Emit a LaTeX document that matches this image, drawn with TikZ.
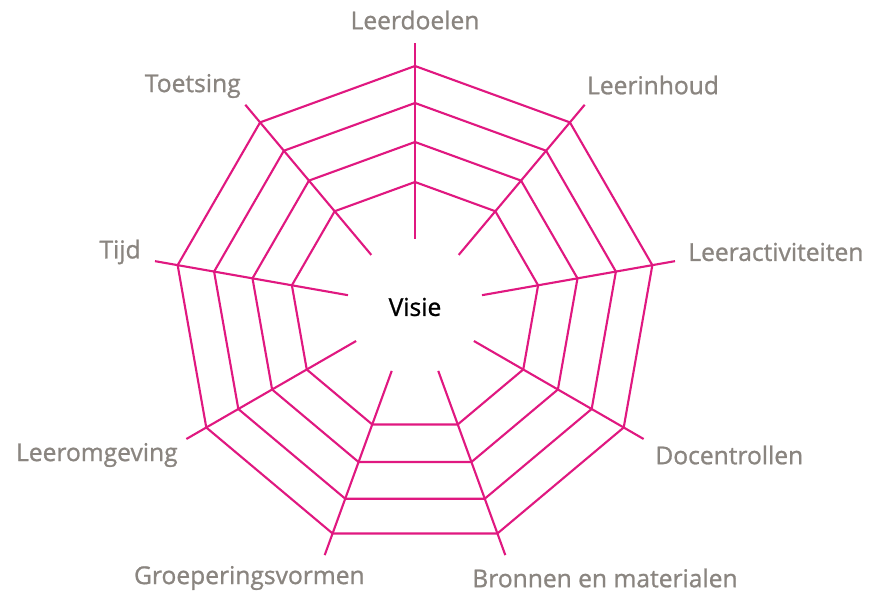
\documentclass[tikz,border=0pt]{standalone}
\usepackage{fontspec}
\setmainfont{Open Sans}
\newfontfamily\lblfont[FakeBold=1]{Open Sans}
\definecolor{web}{RGB}{224,24,128}
\definecolor{lblgray}{RGB}{138,133,128}

\tikzset{
  webline/.style={draw=web, line width=1.2pt, line join=miter},
  aspect/.style={text=lblgray, font=\lblfont\fontsize{14}{16}\selectfont, inner sep=0pt},
}

\begin{document}
\begin{tikzpicture}
\useasboundingbox (-8.30,-5.76) rectangle (9.14,6.14);

% spokes, one per aspect, starting at the top and going clockwise
\foreach \a [count=\i] in {90,50,...,-230} {
  \coordinate (in\i) at (\a:1.36);
  \coordinate (out\i) at (\a:5.28);
  \draw[webline] (in\i) -- (out\i);
}

% the four rings of the web
\foreach \r in {2.5,3.3,4.08,4.82}
  \draw[webline] (90:\r) \foreach \k in {1,...,8} { -- (90-40*\k:\r) } -- cycle;

\node[font=\lblfont\fontsize{14}{16}\selectfont, inner sep=0pt] (visie) at (0,0) {Visie};

\node[aspect] (doelen) at (0,5.74) {Leerdoelen};
\node[aspect] (inhoud) at (4.76,4.44) {Leerinhoud};
\node[aspect, anchor=west] (activ) at (5.46,1.10) {Leeractiviteiten};
\node[aspect, anchor=west] (docent) at (4.80,-2.96) {Docentrollen};
\node[aspect, anchor=west] (bronnen) at (1.14,-5.42) {Bronnen en materialen};
\node[aspect, anchor=east] (groep) at (-1.00,-5.42) {Groeperingsvormen};
\node[aspect, anchor=east] (omgeving) at (-4.74,-2.96) {Leeromgeving};
\node[aspect, anchor=east] (tijd) at (-5.48,1.10) {Tijd};
\node[aspect, anchor=east] (toets) at (-3.48,4.42) {Toetsing};
\end{tikzpicture}
\end{document}
